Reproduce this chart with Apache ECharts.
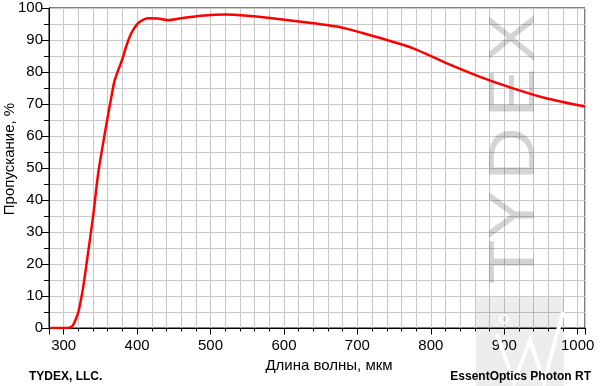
<!DOCTYPE html>
<html>
<head>
<meta charset="utf-8">
<script src="https://cdn.jsdelivr.net/npm/echarts@6/dist/echarts.min.js"></script>
<style>
html,body{margin:0;padding:0;background:#fff;}
#chart{width:600px;height:386px;}
</style>
</head>
<body>
<div id="chart"></div>
<script>
// Wavelength, nm
const wavelength = [282, 290, 300, 305, 310, 313, 316, 320, 326, 332, 340, 347, 356, 365, 369, 373, 377, 381, 385, 392, 401, 408, 415, 428, 442, 460, 487, 520, 550, 595, 640, 677, 708, 740, 776, 822, 867, 912, 957, 1010];
// Transmission, %
const transmission = [0, 0, 0, 0, 0.3, 1.0, 2.5, 5.0, 12.0, 21.5, 34.8, 48.3, 60.8, 72.3, 77.0, 79.8, 82.2, 84.8, 87.9, 92.1, 95.2, 96.3, 96.8, 96.7, 96.2, 96.8, 97.6, 98.0, 97.6, 96.5, 95.2, 94.0, 92.1, 90.0, 87.4, 82.7, 78.5, 74.9, 71.8, 69.2];

const xRange = [280, 1010];
const yRange = [0, 100];
const xTitle = 'Длина волны, мкм';
const yTitle = 'Пропускание, %';
const leftNote = 'TYDEX, LLC.';
const rightNote = 'EssentOptics Photon RT';
const watermark = ['T', 'Y', 'D', 'E', 'X'];

const font = "'Liberation Sans', Arial, sans-serif";
const chart = echarts.init(document.getElementById('chart'), null, {renderer: 'canvas'});

const wmY = [262, 215, 154, 93, 38];
const wmElems = watermark.map((ch, i) => ({
  type: 'text', z: 1, silent: true,
  x: 516, y: wmY[i], rotation: Math.PI / 2, scaleX: 1.15,
  style: {text: ch, font: '64px ' + font, fill: 'rgba(0,0,0,0.17)', align: 'center', verticalAlign: 'middle'}
}));

const option = {
  animation: false,
  backgroundColor: '#fff',
  grid: {left: 49, right: 15, top: 8, bottom: 58, containLabel: false, outerBoundsMode: 'none',
    show: true, borderColor: '#000', borderWidth: 1, backgroundColor: 'transparent'},
  xAxis: [
    {
      type: 'value', min: xRange[0], max: xRange[1], interval: 20, position: 'bottom',
      axisLine: {show: true, lineStyle: {color: '#000', width: 1}},
      axisTick: {show: true, length: 3.5, lineStyle: {color: '#000'}},
      axisLabel: {show: false},
      splitLine: {show: true, lineStyle: {color: '#c8c8c8', width: 1}}
    },
    {
      type: 'value', min: xRange[0], max: xRange[1], position: 'bottom',
      axisLine: {show: true, lineStyle: {color: '#000', width: 1}},
      axisTick: {show: true, length: 6.5, lineStyle: {color: '#000'}},
      axisLabel: {show: true, margin: 10, color: '#000', fontSize: 15, fontFamily: font,
        formatter: v => (v % 100 === 0 ? String(v) : '')},
      splitLine: {show: false},
      name: xTitle, nameLocation: 'middle', nameGap: 30, nameMoveOverlap: false,
      nameTextStyle: {color: '#000', fontSize: 15, fontFamily: font, padding: [0, 0, 0, 24]}
    }
  ],
  yAxis: [
    {
      type: 'value', min: yRange[0], max: yRange[1], interval: 5, position: 'left',
      axisLine: {show: true, lineStyle: {color: '#000', width: 1}},
      axisTick: {show: true, length: 5, lineStyle: {color: '#000'}},
      axisLabel: {show: false},
      splitLine: {show: true, lineStyle: {color: '#c8c8c8', width: 1}}
    },
    {
      type: 'value', min: yRange[0], max: yRange[1], interval: 10, position: 'left',
      axisLine: {show: true, lineStyle: {color: '#000', width: 1}},
      axisTick: {show: true, length: 7, lineStyle: {color: '#000'}},
      axisLabel: {show: true, margin: 6, color: '#000', fontSize: 15, fontFamily: font},
      splitLine: {show: false},
      name: yTitle, nameLocation: 'middle', nameGap: 32, nameRotate: 90, nameMoveOverlap: false,
      nameTextStyle: {color: '#000', fontSize: 15, fontFamily: font, padding: [0, 0, 0, 18]}
    }
  ],
  graphic: [
    {type: 'rect', z: 1, silent: true, shape: {x: 476, y: 297, width: 88, height: 89},
      style: {fill: 'rgba(0,0,0,0.07)'}},
    {type: 'polyline', z: 1, silent: true,
      shape: {points: [[497, 334], [514, 382], [530, 340], [544, 382], [563, 312]]},
      style: {stroke: '#fff', lineWidth: 4, fill: null}},
    {type: 'circle', z: 1, silent: true, shape: {cx: 504, cy: 319, r: 4},
      style: {stroke: '#fff', lineWidth: 2, fill: null}},
    ...wmElems,
    {type: 'text', z: 5, left: 29, top: 371,
      style: {text: leftNote, font: 'bold 12px ' + font, fill: '#000'}},
    {type: 'text', z: 5, right: 9, top: 371,
      style: {text: rightNote, font: 'bold 12px ' + font, fill: '#000'}}
  ],
  series: [{
    type: 'line', xAxisIndex: 0, yAxisIndex: 0, z: 3,
    data: wavelength.map((w, i) => [w, transmission[i]]),
    showSymbol: false, smooth: 0.3,
    lineStyle: {color: '#ff0000', width: 2.5},
    clip: true
  }]
};
chart.setOption(option);
</script>
</body>
</html>
